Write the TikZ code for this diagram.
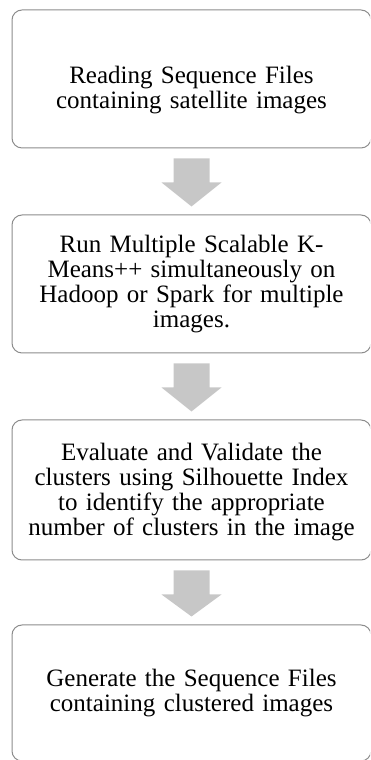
\documentclass[tikz,border=0pt]{standalone}
\usepackage{fontspec}
\setmainfont{Liberation Serif}
\usetikzlibrary{calc}
\tikzset{
  stepbox/.style={draw=black!45, line width=1pt, rounded corners=10pt, fill=white,
    minimum width=359pt, inner sep=0pt},
  steptext/.style={align=center, text width=350pt,
    font=\fontsize{25pt}{25pt}\selectfont, inner sep=0pt},
  flowarrow/.style={fill=black!22, draw=none}
}
\newcommand{\downarrowbetween}[2]{%
  \fill[flowarrow] ($(#1.south)+(-18pt,-10pt)$) -- ($(#1.south)+(18pt,-10pt)$)
    -- ($(#1.south)+(18pt,-34pt)$) -- ($(#1.south)+(30pt,-34pt)$)
    -- ($(#2.north)+(0pt,8pt)$) -- ($(#1.south)+(-30pt,-34pt)$)
    -- ($(#1.south)+(-18pt,-34pt)$) -- cycle;}
\begin{document}
\begin{tikzpicture}[x=1pt,y=1pt]
\useasboundingbox (0,0) rectangle (370,760);
\clip (0,0) rectangle (370,760);
\node[stepbox, minimum height=138pt] (b1) at (191.5,681) {};
\node[steptext] (t1) at ($(b1.center)+(0,-11)$) {Reading Sequence Files\\containing satellite images};
\node[stepbox, minimum height=138pt] (b2) at (191.5,476) {};
\node[steptext] (t2) at (b2.center) {Run Multiple Scalable K-\\Means++ simultaneously on\\Hadoop or Spark for multiple\\images.};
\node[stepbox, minimum height=140pt] (b3) at (191.5,270) {};
\node[steptext] (t3) at ($(b3.center)+(0,-2)$) {Evaluate and Validate the\\clusters using Silhouette Index\\to identify the appropriate\\number of clusters in the image};
\node[stepbox, minimum height=136pt] (b4) at (191.5,67) {};
\node[steptext] (t4) at (b4.center) {Generate the Sequence Files\\containing clustered images};
\downarrowbetween{b1}{b2}
\downarrowbetween{b2}{b3}
\downarrowbetween{b3}{b4}
\end{tikzpicture}
\end{document}
